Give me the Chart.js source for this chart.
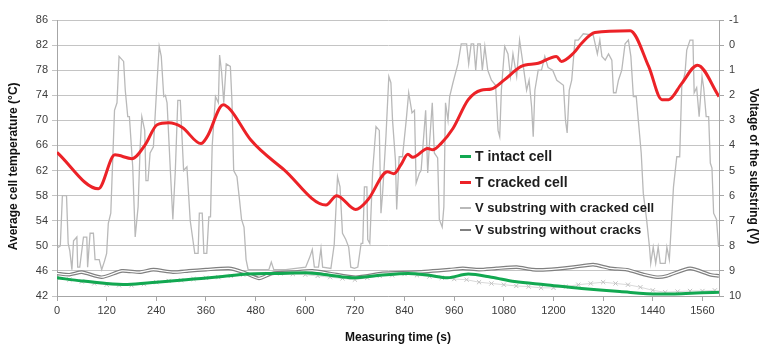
<!DOCTYPE html>
<html>
<head>
<meta charset="utf-8">
<script src="https://cdn.jsdelivr.net/npm/chart.js@4.4.1/dist/chart.umd.min.js"></script>
<style>
  html, body { margin: 0; padding: 0; background: #fff; }
  #wrap { position: relative; width: 759px; height: 345px; }
  #legend { position: absolute; left: 0; top: 0; font-family: 'Liberation Sans', Arial, sans-serif; font-weight: bold; color: #1e1e1e; }
  .item { position: absolute; left: 460px; height: 16px; line-height: 16px; white-space: nowrap; display: flex; align-items: center; }
  .sw { display: inline-block; width: 11px; height: 3px; margin-right: 4px; }
</style>
</head>
<body>
<div id="wrap">
  <canvas id="chart" width="759" height="345"></canvas>
  <div id="legend"></div>
</div>
<script>
// ── Data ──
const xTicks = [0, 120, 240, 360, 480, 600, 720, 840, 960, 1080, 1200, 1320, 1440, 1560];

// T cracked cell (°C, left axis)
const crackedTime = [0, 100, 140, 181, 213, 242, 270, 302, 348, 363, 402, 419, 468, 549, 650, 676, 722, 751, 799, 814, 831, 848, 860, 896, 908, 928, 957, 994, 1025, 1050, 1082, 1122, 1163, 1207, 1219, 1248, 1268, 1300, 1385, 1430, 1462, 1478, 1510, 1548, 1600];
const crackedTemp = [64.9, 59.1, 64.5, 63.9, 66.1, 69.3, 69.6, 68.9, 66.3, 67.4, 72.5, 71.7, 66.9, 62.1, 56.5, 58.0, 55.8, 57.3, 61.8, 61.5, 62.9, 64.6, 64.1, 65.5, 65.3, 66.3, 68.7, 73.3, 74.8, 75.0, 76.5, 78.6, 79.1, 80.2, 79.4, 80.7, 82.3, 84.0, 84.3, 78.6, 73.3, 73.3, 75.9, 78.8, 73.8];

// T intact cell (°C, left axis)
const intactTime = [0, 60, 120, 170, 240, 330, 400, 460, 530, 600, 660, 714, 780, 848, 900, 944, 994, 1050, 1106, 1180, 1268, 1360, 1454, 1520, 1559, 1600];
const intactTemp = [44.9, 44.4, 44.0, 43.85, 44.2, 44.7, 45.1, 45.5, 45.6, 45.7, 45.3, 44.9, 45.3, 45.6, 45.3, 44.9, 45.5, 45.0, 44.3, 43.8, 43.2, 42.7, 42.3, 42.4, 42.5, 42.6];

// faint x markers running along the intact cell curve (°C, left axis)
const markTime = [0, 30, 60, 90, 120, 150, 180, 210, 240, 270, 300, 330, 360, 390, 420, 450, 480, 510, 540, 570, 600, 630, 660, 690, 720, 750, 780, 810, 840, 870, 900, 930, 960, 990, 1020, 1050, 1080, 1110, 1140, 1170, 1200, 1230, 1260, 1290, 1320, 1350, 1380, 1410, 1440, 1470, 1500, 1530, 1560, 1590];
const markTemp = [44.9, 44.6, 44.3, 44.0, 43.8, 43.7, 43.7, 43.9, 44.2, 44.4, 44.5, 44.7, 44.9, 45.0, 45.2, 45.4, 45.3, 45.5, 45.6, 45.5, 45.4, 45.2, 45.0, 44.8, 44.6, 44.9, 45.2, 45.3, 45.5, 45.3, 45.1, 44.9, 44.7, 44.6, 44.2, 44.0, 43.8, 43.6, 43.5, 43.3, 43.3, 43.5, 43.8, 44.0, 44.2, 44.0, 43.8, 43.4, 42.9, 42.6, 42.7, 42.8, 42.8, 42.9];

// V substring with cracked cell (V, right axis)
const crackVTime = [0, 8, 13, 23, 27, 31, 36, 40, 48, 50, 55, 64, 72, 74, 80, 88, 92, 102, 108, 115, 120, 124, 130, 139, 145, 150, 161, 165, 171, 175, 183, 189, 196, 201, 205, 212, 215, 220, 225, 233, 242, 247, 252, 258, 262, 266, 274, 280, 286, 292, 298, 306, 314, 322, 333, 341, 344, 351, 355, 362, 367, 371, 375, 383, 390, 393, 398, 403, 409, 419, 423, 427, 435, 441, 446, 452, 457, 462, 512, 518, 524, 553, 601, 611, 617, 622, 632, 638, 642, 662, 670, 678, 684, 690, 698, 705, 710, 719, 727, 735, 739, 743, 749, 751, 756, 763, 771, 779, 783, 787, 795, 802, 807, 811, 818, 821, 827, 835, 844, 850, 858, 864, 868, 876, 880, 891, 896, 900, 907, 912, 920, 924, 931, 935, 939, 945, 949, 957, 969, 977, 990, 995, 1001, 1007, 1012, 1017, 1023, 1028, 1034, 1041, 1050, 1060, 1066, 1070, 1074, 1082, 1090, 1096, 1102, 1111, 1118, 1125, 1135, 1141, 1147, 1151, 1155, 1163, 1171, 1179, 1187, 1198, 1208, 1216, 1224, 1229, 1233, 1238, 1244, 1252, 1260, 1272, 1296, 1306, 1312, 1317, 1325, 1333, 1341, 1345, 1351, 1357, 1365, 1373, 1381, 1387, 1393, 1400, 1405, 1412, 1417, 1425, 1432, 1435, 1441, 1447, 1453, 1458, 1470, 1474, 1480, 1490, 1498, 1505, 1510, 1518, 1522, 1530, 1537, 1540, 1546, 1552, 1559, 1563, 1569, 1575, 1579, 1583, 1587, 1594, 1599];
const crackVVal = [8.1, 8.0, 6.0, 6.0, 7.9, 8.2, 8.95, 7.8, 7.65, 8.85, 8.85, 7.65, 7.65, 8.85, 7.5, 7.5, 8.55, 8.55, 8.95, 8.6, 8.3, 7.1, 6.7, 2.6, 2.3, 0.45, 0.65, 1.8, 2.85, 2.85, 4.85, 7.65, 6.45, 4.05, 2.85, 3.4, 5.4, 5.4, 4.3, 4.05, 1.4, 0.05, 0.45, 2.05, 2.0, 2.3, 5.0, 6.95, 5.0, 2.2, 2.2, 5.0, 4.85, 7.0, 8.3, 8.3, 6.7, 6.7, 8.3, 8.3, 6.85, 6.85, 4.05, 2.05, 2.3, 0.4, 1.1, 2.3, 0.75, 0.85, 2.3, 5.0, 5.25, 6.15, 6.95, 7.25, 8.55, 8.95, 8.95, 8.65, 8.95, 8.95, 8.85, 8.45, 8.15, 8.85, 8.85, 8.1, 8.85, 8.9, 7.95, 5.25, 5.65, 7.5, 7.75, 8.05, 8.85, 8.9, 8.85, 7.9, 7.9, 5.65, 5.65, 7.75, 7.9, 5.0, 3.25, 3.4, 6.7, 5.9, 3.65, 1.25, 1.5, 3.0, 4.6, 6.55, 4.45, 4.45, 3.0, 1.9, 2.7, 2.6, 5.5, 5.1, 5.0, 2.6, 5.1, 4.0, 2.3, 4.3, 4.5, 6.95, 7.25, 6.45, 2.3, 3.0, 2.05, 1.5, 0.75, -0.05, -0.05, 0.75, -0.05, -0.05, 1.0, -0.05, -0.05, 1.0, 0.05, 1.0, 1.4, 1.6, 3.4, 3.65, 1.8, 0.05, 0.35, 1.25, 0.35, 1.25, -0.2, 0.6, 1.8, 1.4, 2.45, 3.65, 1.8, 1.0, 1.0, 0.45, 0.9, 1.0, 1.4, 1.5, 1.6, 3.0, 3.5, 1.8, 1.4, -0.2, -0.2, -0.45, -0.4, 0.35, -0.2, 0.45, 0.6, 0.35, 0.6, 1.9, 1.9, 1.4, 1.0, -0.05, -0.2, 0.45, 2.05, 2.05, 3.0, 4.3, 5.9, 6.95, 8.05, 8.7, 8.05, 8.7, 8.05, 8.7, 8.7, 8.05, 8.55, 5.65, 4.45, 4.45, 1.65, 1.1, 0.2, -0.2, -0.2, 1.9, 1.7, 2.85, 1.25, 1.7, 2.85, 2.85, 4.7, 4.9, 6.7, 6.95, 8.05];

// V substring without cracks (V, right axis)
const intactVTime = [0, 30, 60, 108, 157, 200, 233, 280, 318, 360, 415, 450, 488, 520, 570, 617, 660, 722, 787, 868, 949, 981, 1020, 1062, 1111, 1150, 1184, 1248, 1296, 1337, 1377, 1420, 1450, 1474, 1530, 1579, 1600];
const intactVVal = [9.1, 9.15, 9.05, 9.25, 9.0, 9.05, 8.95, 9.05, 9.0, 8.95, 8.9, 9.05, 9.3, 9.1, 9.05, 9.0, 9.1, 9.25, 9.1, 9.05, 8.95, 8.9, 8.95, 8.9, 8.85, 8.95, 8.95, 8.85, 8.75, 8.9, 8.95, 9.15, 9.25, 9.2, 8.9, 9.15, 9.2];

const RED = '#ec2227';
const GREEN = '#12a851';
const LIGHT_GRAY = '#b9b9b9';
const DARK_GRAY = '#808080';
const TICK_COLOR = '#3c3c3c';
const GRID_COLOR = '#c4c4c4';
const FONT = "'Liberation Sans', Arial, sans-serif";

function pairs(xs, ys) {
  return xs.map((x, i) => ({ x, y: ys[i] }));
}

// ── Legend (drawn as html over the plot) ──
const legendItems = [
  { label: 'T intact cell', color: GREEN, top: 148, size: 14 },
  { label: 'T cracked cell', color: RED, top: 174, size: 14 },
  { label: 'V substring with cracked cell', color: LIGHT_GRAY, top: 200, size: 13, thin: true },
  { label: 'V substring without cracks', color: DARK_GRAY, top: 222, size: 13, thin: true }
];
const legendEl = document.getElementById('legend');
legendItems.forEach(it => {
  const row = document.createElement('div');
  row.className = 'item';
  row.style.top = it.top + 'px';
  row.style.fontSize = it.size + 'px';
  const sw = document.createElement('span');
  sw.className = 'sw';
  sw.style.background = it.color;
  if (it.thin) sw.style.height = '2px';
  row.appendChild(sw);
  row.appendChild(document.createTextNode(it.label));
  legendEl.appendChild(row);
});

// ── Chart ──
new Chart(document.getElementById('chart'), {
  type: 'line',
  data: {
    datasets: [
      {
        label: 'T cracked cell',
        data: pairs(crackedTime, crackedTemp),
        yAxisID: 'y',
        borderColor: RED,
        borderWidth: 3,
        pointRadius: 0,
        cubicInterpolationMode: 'monotone',
        order: 0
      },
      {
        label: 'T intact cell',
        data: pairs(intactTime, intactTemp),
        yAxisID: 'y',
        borderColor: GREEN,
        borderWidth: 3,
        pointRadius: 0,
        cubicInterpolationMode: 'monotone',
        order: 1
      },
      {
        label: 'V substring without cracks (inner)',
        data: pairs(intactVTime, intactVVal),
        yAxisID: 'y2',
        borderColor: '#ffffff',
        borderWidth: 1.2,
        pointRadius: 0,
        tension: 0.2,
        order: 2
      },
      {
        label: 'V substring without cracks',
        data: pairs(intactVTime, intactVVal),
        yAxisID: 'y2',
        borderColor: DARK_GRAY,
        borderWidth: 3.6,
        pointRadius: 0,
        tension: 0.2,
        order: 3
      },
      {
        label: 'T intact markers',
        data: pairs(markTime, markTemp),
        yAxisID: 'y',
        borderColor: '#cfcfcf',
        borderWidth: 0.8,
        pointStyle: 'crossRot',
        pointRadius: 3,
        pointBorderColor: '#c2c2c2',
        pointBorderWidth: 1,
        order: 4
      },
      {
        label: 'V substring with cracked cell',
        data: pairs(crackVTime, crackVVal),
        yAxisID: 'y2',
        borderColor: LIGHT_GRAY,
        borderWidth: 1.3,
        pointRadius: 0,
        tension: 0,
        order: 5
      }
    ]
  },
  options: {
    responsive: false,
    animation: false,
    layout: { padding: { top: 20, left: 0, right: 0, bottom: 0 } },
    plugins: {
      legend: { display: false },
      tooltip: { enabled: false }
    },
    scales: {
      x: {
        type: 'linear',
        min: 0,
        max: 1600,
        afterBuildTicks: s => { s.ticks = xTicks.map(v => ({ value: v })); },
        afterFit: s => { s.height = 49; },
        grid: { drawOnChartArea: false, drawTicks: true, tickLength: 5, color: '#a6a6a6' },
        border: { color: '#a6a6a6' },
        ticks: {
          color: TICK_COLOR, font: { family: FONT, size: 11 }, padding: 3, maxRotation: 0, autoSkip: false,
          callback: v => String(v)
        },
        title: {
          display: true,
          text: '      Measuring time (s)',
          color: '#111',
          font: { family: FONT, size: 12, weight: 'bold', lineHeight: 1.2 },
          padding: { top: 0, bottom: 0 }
        }
      },
      y: {
        position: 'left',
        min: 42,
        max: 86,
        ticks: { stepSize: 4, color: TICK_COLOR, font: { family: FONT, size: 11 }, padding: 4, callback: v => String(v) },
        afterFit: s => { s.width = 57; },
        grid: { color: GRID_COLOR, tickLength: 5, lineWidth: 1 },
        border: { color: '#a6a6a6' },
        title: {
          display: true,
          text: 'Average cell temperature (°C)     ',
          color: '#111',
          font: { family: FONT, size: 12, weight: 'bold', lineHeight: 1.2 },
          padding: { top: 6, bottom: 0 }
        }
      },
      y2: {
        position: 'right',
        min: -1,
        max: 10,
        reverse: true,
        ticks: { stepSize: 1, color: TICK_COLOR, font: { family: FONT, size: 11 }, padding: 5, callback: v => String(v) },
        afterFit: s => { s.width = 40; },
        grid: { drawOnChartArea: false, tickLength: 5, color: '#a6a6a6' },
        border: { color: '#a6a6a6' },
        title: {
          display: true,
          text: '     Voltage of the substring (V)',
          color: '#111',
          font: { family: FONT, size: 12, weight: 'bold', lineHeight: 1.0 },
          padding: { top: 0, bottom: 0 }
        }
      }
    }
  }
});
</script>
</body>
</html>
